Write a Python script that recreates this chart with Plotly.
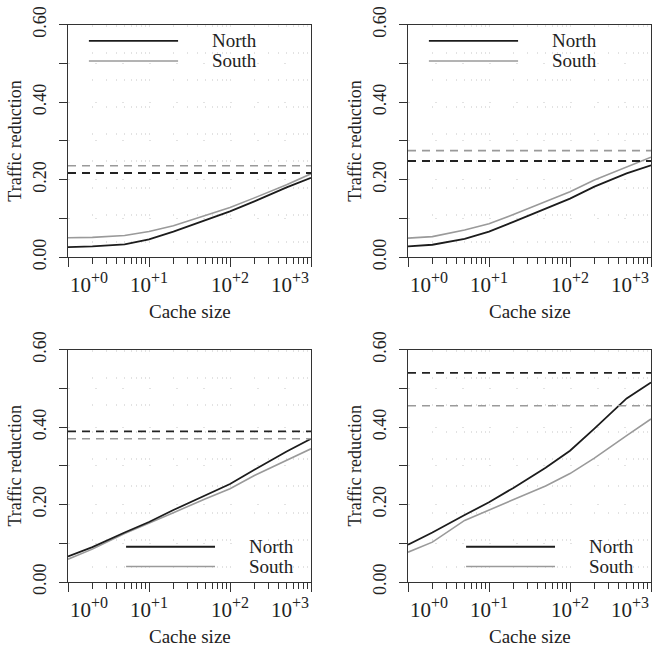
import math
import plotly.graph_objects as go

# ---------------- data ----------------
cache_sizes = [1, 2, 5, 10, 20, 50, 100, 200, 500, 1000]

north_a = [0.026, 0.028, 0.033, 0.046, 0.066, 0.095, 0.118, 0.144, 0.180, 0.205]
south_a = [0.050, 0.051, 0.056, 0.066, 0.081, 0.108, 0.128, 0.153, 0.187, 0.215]
north_a_max = 0.217
south_a_max = 0.236

north_b = [0.028, 0.032, 0.047, 0.066, 0.091, 0.124, 0.151, 0.182, 0.216, 0.237]
south_b = [0.049, 0.053, 0.070, 0.086, 0.110, 0.143, 0.169, 0.199, 0.232, 0.258]
north_b_max = 0.248
south_b_max = 0.275

north_c = [0.066, 0.090, 0.128, 0.155, 0.186, 0.223, 0.253, 0.290, 0.337, 0.370]
south_c = [0.059, 0.085, 0.125, 0.151, 0.179, 0.215, 0.241, 0.275, 0.314, 0.344]
north_c_max = 0.389
south_c_max = 0.370

north_d = [0.0965, 0.128, 0.173, 0.206, 0.243, 0.295, 0.339, 0.396, 0.474, 0.515]
south_d = [0.077, 0.103, 0.159, 0.186, 0.213, 0.248, 0.280, 0.320, 0.378, 0.421]
north_d_max = 0.540
south_d_max = 0.455

series_names = ["North", "South"]
x_tick_vals = [1, 10, 100, 1000]
x_tick_exps = ["+0", "+1", "+2", "+3"]
x_minor_vals = [m * d for d in (1, 10, 100) for m in range(2, 10)]
y_tick_vals = [0.0, 0.2, 0.4, 0.6]
y_tick_text = ["0.00", "0.20", "0.40", "0.60"]
y_minor_vals = [0.1, 0.3, 0.5]
x_title = "Cache size"
y_title = "Traffic reduction"

# ---------------- style ----------------
FONT = "Times New Roman, Liberation Serif, serif"
BLACK = "#1c1c1c"
GRAY = "#9a9a9a"
AXIS = "#333333"
GRID = "#e2e2e2"
GDASH = "2px,25px"
W, H = 652, 657

panels = [
    (north_a, south_a, north_a_max, south_a_max, "top"),
    (north_b, south_b, north_b_max, south_b_max, "top"),
    (north_c, south_c, north_c_max, south_c_max, "bottom"),
    (north_d, south_d, north_d_max, south_d_max, "bottom"),
]

x_domains = [[68 / W, 311 / W], [408 / W, 651 / W], [68 / W, 311 / W], [408 / W, 651 / W]]
y_domains = [[1 - 251 / H, 1 - 7 / H], [1 - 251 / H, 1 - 7 / H],
             [1 - 592 / H, 1 - 348 / H], [1 - 592 / H, 1 - 348 / H]]

fig = go.Figure()
annotations = []
shapes = []

for i, (nv, sv, nmax, smax, legpos) in enumerate(panels):
    k = "" if i == 0 else str(i + 1)
    xa, ya = "x" + k, "y" + k
    # curves
    fig.add_trace(go.Scatter(x=cache_sizes, y=sv, mode="lines", xaxis=xa, yaxis=ya,
                             line=dict(color=GRAY, width=1.6), showlegend=False))
    fig.add_trace(go.Scatter(x=cache_sizes, y=nv, mode="lines", xaxis=xa, yaxis=ya,
                             line=dict(color=BLACK, width=1.8), showlegend=False))
    # dashed reference levels
    fig.add_trace(go.Scatter(x=[cache_sizes[0], cache_sizes[-1]], y=[smax, smax], mode="lines",
                             xaxis=xa, yaxis=ya, line=dict(color=GRAY, width=1.6, dash="8px,6px"),
                             showlegend=False))
    fig.add_trace(go.Scatter(x=[cache_sizes[0], cache_sizes[-1]], y=[nmax, nmax], mode="lines",
                             xaxis=xa, yaxis=ya, line=dict(color="#222222", width=1.9, dash="8px,6px"),
                             showlegend=False))

    xaxis = dict(
        domain=x_domains[i], anchor=ya, type="log",
        range=[math.log10(cache_sizes[0]), math.log10(cache_sizes[-1])],
        showline=True, linecolor=AXIS, linewidth=1, mirror=True,
        ticks="outside", ticklen=9, tickcolor=AXIS, tickvals=x_tick_vals,
        showticklabels=False, zeroline=False,
        showgrid=True, gridcolor=GRID, gridwidth=1, griddash=GDASH,
        minor=dict(tickvals=x_minor_vals, ticks="outside", ticklen=6, tickcolor=AXIS,
                   showgrid=True, gridcolor=GRID, gridwidth=1, griddash=GDASH),
    )
    yaxis = dict(
        domain=y_domains[i], anchor=xa, range=[0, 0.6],
        showline=True, linecolor=AXIS, linewidth=1, mirror=True,
        ticks="outside", ticklen=8, tickcolor=AXIS,
        tickvals=y_tick_vals, ticktext=y_tick_text, tickangle=-90,
        tickfont=dict(family=FONT, size=18, color="#222"),
        ticklabelstandoff=6,
        showgrid=True, gridcolor=GRID, gridwidth=1, griddash=GDASH, zeroline=False,
        minor=dict(tickvals=y_minor_vals, ticks="outside", ticklen=8, tickcolor=AXIS,
                   showgrid=True, gridcolor=GRID, gridwidth=1, griddash=GDASH),
        title=dict(text=y_title, font=dict(family=FONT, size=18, color="#222"), standoff=3),
    )
    fig.update_layout(**{"xaxis" + k: xaxis, "yaxis" + k: yaxis})

    # x tick labels (10^{+n})
    for j, (v, e) in enumerate(zip(x_tick_vals, x_tick_exps)):
        anchor = "left" if j == 0 else ("right" if j == len(x_tick_vals) - 1 else "center")
        label = "10<sup><span style='font-size:16px'>%s</span></sup>" % e
        annotations.append(dict(x=math.log10(v), xref=xa, y=0, yref=ya + " domain",
                                text=label, showarrow=False, xanchor=anchor, yanchor="top",
                                yshift=-10, font=dict(family=FONT, size=21, color="#222")))
    annotations.append(dict(x=0.5, xref=xa + " domain", y=0, yref=ya + " domain",
                            text=x_title, showarrow=False, xanchor="center", yanchor="middle",
                            yshift=-54, font=dict(family=FONT, size=19, color="#222")))

    # legend
    if legpos == "top":
        lx0, lx1, tx, ys = 0.086, 0.453, 0.584, [0.930, 0.844]
    else:
        lx0, lx1, tx, ys = 0.239, 0.605, 0.737, [0.152, 0.067]
    for name, col, wdt, yy in zip(series_names, [BLACK, GRAY], [1.8, 1.6], ys):
        shapes.append(dict(type="line", xref=xa + " domain", yref=ya + " domain",
                           x0=lx0, x1=lx1, y0=yy, y1=yy, line=dict(color=col, width=wdt)))
        annotations.append(dict(x=tx, xref=xa + " domain", y=yy, yref=ya + " domain",
                                text=name, showarrow=False, xanchor="left", yanchor="middle",
                                font=dict(family=FONT, size=19, color="#222")))

fig.update_layout(
    width=W, height=H, margin=dict(l=0, r=0, t=0, b=0),
    paper_bgcolor="white", plot_bgcolor="white",
    showlegend=False, annotations=annotations, shapes=shapes,
    font=dict(family=FONT, color="#222"),
)

fig.write_html("out.html")
